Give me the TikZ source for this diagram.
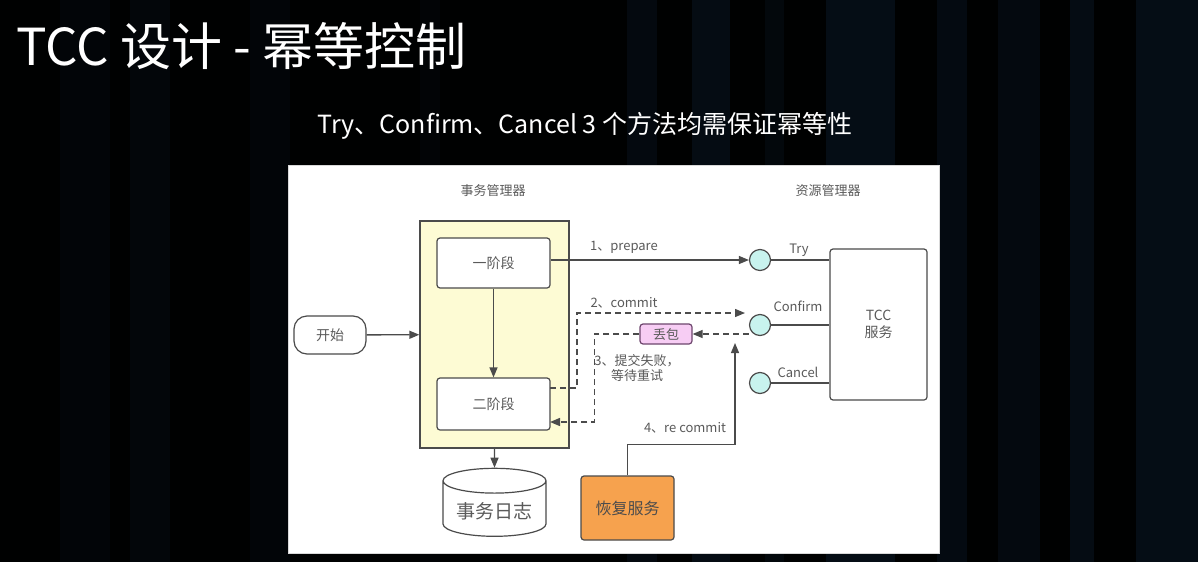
\documentclass[tikz,border=0pt]{standalone}
\usepackage{fontspec}
\setmainfont{Noto Sans CJK SC}
\usetikzlibrary{arrows.meta,shapes.geometric}

\definecolor{bgnavy}{RGB}{10,26,42}
\definecolor{linegray}{RGB}{75,75,75}
\definecolor{textgray}{RGB}{90,90,90}
\definecolor{tmyellow}{RGB}{253,251,212}
\definecolor{portcyan}{RGB}{200,243,238}
\definecolor{lossfill}{RGB}{247,205,244}
\definecolor{lossline}{RGB}{110,70,110}
\definecolor{recorange}{RGB}{246,162,78}

\tikzset{
  lbl/.style={text=textgray,font=\fontsize{13}{15}\selectfont,inner sep=1pt},
  box/.style={draw=linegray,line width=1.2pt,rounded corners=3pt,fill=white,
    text=textgray,font=\fontsize{14}{17}\selectfont,align=center},
  port/.style={circle,draw=linegray,line width=1.2pt,fill=portcyan,
    minimum size=21pt,inner sep=0pt},
  flow/.style={draw=linegray,line width=1.3pt,-{Triangle[length=10pt,width=8pt]}},
  link/.style={draw=linegray,line width=1.3pt},
  dashflow/.style={flow,dash pattern=on 6pt off 4pt}
}

\begin{document}
\begin{tikzpicture}[x=1pt,y=-1pt]
  \useasboundingbox (0,0) rectangle (1198,562);
  % background stripes
  \fill[black!97!bgnavy] (0,0) rectangle (1198,562);
  \foreach \xa/\xb/\op in {60/110/20,130/170/25,250/290/20,420/440/15,627/657/35,692/730/45,
      765/784/30,826/895/50,937/967/40,998/1040/35,1070/1094/45,1136/1198/50}
    \fill[bgnavy!\op!black] (\xa,0) rectangle (\xb,562);
  \node[anchor=west,text=white,font=\fontsize{51}{60}\selectfont,inner sep=0pt]
    (title) at (16,46) {TCC 设计 - 幂等控制};
  \node[text=white,font=\fontsize{25}{30}\selectfont,inner sep=0pt]
    (subtitle) at (585,126) {Try、Confirm、Cancel 3 个方法均需保证幂等性};
  % panel
  \fill[white,draw=black!15] (288,165) rectangle (939,553);
  \node[lbl] (tmlbl) at (493,191) {事务管理器};
  \node[lbl] (rmlbl) at (828,191) {资源管理器};
  % transaction manager
  \node[draw=linegray,line width=1.3pt,fill=tmyellow,minimum width=149pt,
    minimum height=227pt] (tm) at (494.5,334.5) {};
  \node[box,minimum width=113pt,minimum height=50pt] (p1) at (493.5,263) {一阶段};
  \node[box,minimum width=113pt,minimum height=52pt] (p2) at (493.5,404) {二阶段};
  \node[box,rounded corners=13pt,minimum width=72pt,minimum height=38pt]
    (start) at (330,335) {开始};
  \node[cylinder,shape border rotate=90,aspect=0.3,draw=linegray,line width=1.2pt,
    fill=white,text=textgray,font=\fontsize{19}{22}\selectfont,
    minimum width=103pt,minimum height=68pt] (log) at (494.5,511) {事务日志};
  \node[box,fill=recorange,text=black!70,font=\fontsize{16}{19}\selectfont,
    minimum width=93pt,minimum height=64pt] (rec) at (627.5,508) {恢复服务};
  % resource manager
  \node[box,minimum width=97pt,minimum height=151pt] (tcc) at (878.5,324.5) {TCC\\服务};
  \node[port] (try) at (760,260) {};
  \node[port] (confirm) at (760,325) {};
  \node[port] (cancel) at (760,383) {};
  \node[box,draw=lossline,fill=lossfill,font=\fontsize{13}{15}\selectfont,
    minimum width=52pt,minimum height=20pt,inner sep=1pt] (loss) at (666,334) {丢包};
  % labels
  \node[lbl] (prep) at (624,247) {1、prepare};
  \node[lbl] (comm) at (624,303) {2、commit};
  \node[lbl,align=center] (fail) at (637,368) {3、提交失败，\\等待重试};
  \node[lbl] (recomm) at (685,428) {4、re commit};
  \node[lbl] (trylbl) at (799,250) {Try};
  \node[lbl] (conflbl) at (798,306) {Confirm};
  \node[lbl] (canclbl) at (798,372) {Cancel};
  \coordinate (commitout) at (550,388);
  \coordinate (commitin) at (745,313);
  \coordinate (failin) at (550,422);
  \coordinate (retry) at (735,343);
  % connectors
  \draw[flow] (start) -- (tm);
  \draw[flow] (p1) -- (p2);
  \draw[flow] (tm) -- (log);
  \draw[flow] (p1.east |- try) -- (try);
  \draw[link] (try) -- (try -| tcc.west);
  \draw[link] (confirm) -- (confirm -| tcc.west);
  \draw[link] (cancel) -- (cancel -| tcc.west);
  \draw[dashflow] (commitout) -- ++(27,0) |- (commitin);
  \draw[dashflow] (confirm.west |- loss) -- (loss);
  \draw[dashflow] (loss.west) -- ++(-45,0) |- (failin);
  \draw[flow] (rec.north) -- ++(0,-31) -| (retry);
\end{tikzpicture}
\end{document}
